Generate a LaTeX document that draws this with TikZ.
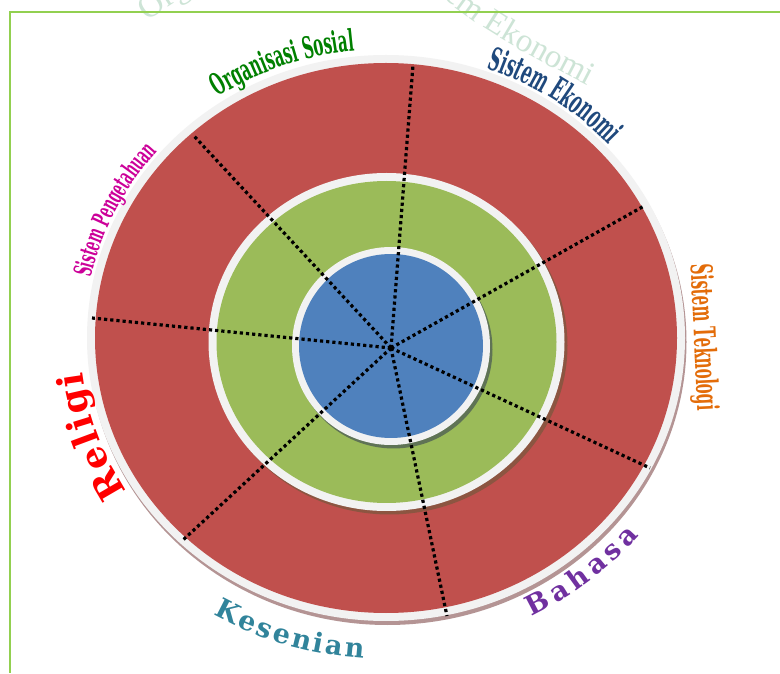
\documentclass[tikz,border=0pt]{standalone}
\usepackage{fontspec}
\setmainfont{Liberation Serif}
\newfontfamily\condfont{DejaVu Serif}[FakeStretch=0.5]
\newfontfamily\slabfont{DejaVu Serif}
\newfontfamily\ghostfont{Liberation Serif}
\usetikzlibrary{calc,decorations.text}
\definecolor{redfill}{RGB}{192,80,77}
\definecolor{greenfill}{RGB}{155,187,89}
\definecolor{bluefill}{RGB}{79,129,189}
\definecolor{ringgray}{RGB}{242,242,242}
\definecolor{shadowA}{RGB}{180,148,148}
\definecolor{shadowB}{RGB}{140,85,65}
\definecolor{shadowC}{RGB}{95,115,85}
\definecolor{framegreen}{RGB}{146,208,80}
\definecolor{ghostcol}{RGB}{205,228,214}
\definecolor{cOrg}{RGB}{0,128,0}
\definecolor{cEko}{RGB}{31,73,125}
\definecolor{cTek}{RGB}{227,108,9}
\definecolor{cBah}{RGB}{112,48,160}
\definecolor{cKes}{RGB}{49,132,155}
\definecolor{cRel}{RGB}{255,0,0}
\definecolor{cPen}{RGB}{204,0,153}
\tikzset{
  divider/.style={line width=3.2pt, dash pattern=on 3.2pt off 3pt, black},
  arclabel/.style 2 args={decorate, decoration={text along path, text align=center, text color=#1, text={#2}}},
}
\begin{document}
\begin{tikzpicture}[x=1pt,y=1pt]
\clip (0,0) rectangle (780,673);
\fill[white] (0,0) rectangle (780,673);
% ghost texts
\path[decorate, decoration={text along path, text align=left, text color=ghostcol,
  text={|\ghostfont\fontsize{34}{36}\selectfont|Organisasi Sosial}}]
  ($(386,335)+(127:396)$) arc[start angle=127, end angle=40, radius=396];
\path[decorate, decoration={text along path, text align=right, text color=ghostcol,
  text={|\ghostfont\fontsize{33}{36}\selectfont|Sistem Ekonomi}}]
  (395,743) .. controls (420,678) and (480,643) .. (588,587);
% frame
\draw[framegreen, line width=2pt] (780,661) -- (10,661) -- (10,0);
% outer ring
\coordinate (co) at (386,335);
\fill[shadowA] (387.5,331) ellipse [x radius=299, y radius=283];
\fill[ringgray] (co) ellipse [x radius=299, y radius=283];
\fill[redfill] (co) ellipse [x radius=291, y radius=275];
% middle ring
\coordinate (cg) at (386.5,331);
\fill[shadowB] (389.5,327.5) ellipse [x radius=178, y radius=169];
\fill[ringgray] (cg) ellipse [x radius=178, y radius=169];
\fill[greenfill] (cg) ellipse [x radius=170, y radius=161];
% inner disc
\coordinate (cb) at (391,327);
\fill[shadowC] (393.5,323.5) circle [radius=99];
\fill[ringgray] (cb) circle [radius=99];
\fill[bluefill] (cb) circle [radius=92];
% dividers
\coordinate (hub) at (391,325);
\coordinate (e1) at (413,608);
\coordinate (e2) at (644,467);
\coordinate (e3) at (650,205);
\coordinate (e4) at (447,57);
\coordinate (e5) at (183,133);
\coordinate (e6) at (92,355);
\coordinate (e7) at (194,537);
\foreach \e in {e1,e2,e3,e4,e5,e6,e7} \draw[divider] (hub) -- (\e);
% labels
\path[arclabel={cOrg}{|\condfont\bfseries\fontsize{30}{32}\selectfont|Organisasi Sosial}]
  ($(co)+(150:305 and 289)$) arc[start angle=150, end angle=70, x radius=305, y radius=289];
\path[arclabel={cEko}{|\condfont\bfseries\fontsize{32}{34}\selectfont|Sistem Ekonomi}]
  ($(co)+(96:302 and 286)$) arc[start angle=96, end angle=16, x radius=302, y radius=286];
\coordinate (tk1) at (690,420);
\coordinate (tk2) at (698,250);
\path[arclabel={cTek}{|\condfont\bfseries\fontsize{30}{32}\selectfont|Sistem Teknologi}] (tk1) -- (tk2);
\path[arclabel={cPen}{|\condfont\bfseries\fontsize{25}{28}\selectfont|Sistem Pengetahuan}]
  ($(co)+(194:302 and 286)$) arc[start angle=194, end angle=114, x radius=302, y radius=286];
\path[arclabel={cRel}{|\slabfont\bfseries\fontsize{36}{40}\selectfont|{R\kern2pt}{e\kern2pt}{l\kern2pt}{i\kern2pt}{g\kern2pt}i}]
  ($(co)+(239:306 and 290)$) arc[start angle=239, end angle=159, x radius=306, y radius=290];
\path[arclabel={cKes}{|\slabfont\bfseries\fontsize{27}{30}\selectfont|{K\kern2.5pt}{e\kern2.5pt}{s\kern2.5pt}{e\kern2.5pt}{n\kern2.5pt}{i\kern2.5pt}{a\kern2.5pt}n}]
  ($(co)+(212.5:339 and 321)$) arc[start angle=212.5, end angle=292.5, x radius=339, y radius=321];
\path[arclabel={cBah}{|\slabfont\bfseries\fontsize{27}{30}\selectfont|{B\kern5pt}{a\kern5pt}{h\kern5pt}{a\kern5pt}{s\kern5pt}a}]
  ($(co)+(269:328 and 310)$) arc[start angle=269, end angle=349, x radius=328, y radius=310];
\end{tikzpicture}
\end{document}
